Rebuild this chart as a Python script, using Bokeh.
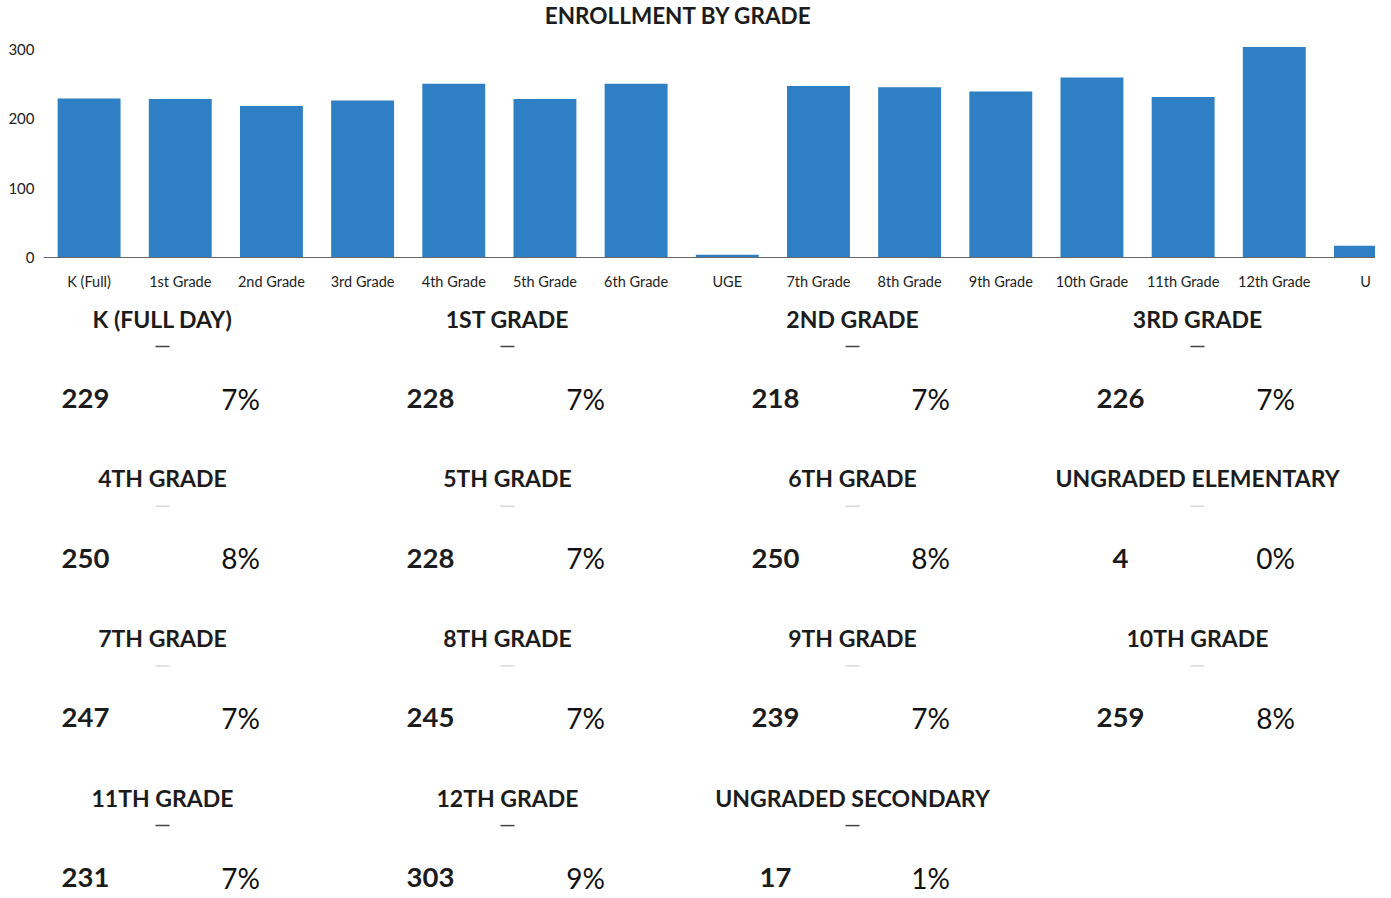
from bokeh.plotting import figure
from bokeh.models import Range1d, ColumnDataSource, FixedTicker
from bokeh.core.properties import value
from bokeh.embed import file_html
from bokeh.resources import INLINE

# ---- data ----
bar_labels = ["K (Full)", "1st Grade", "2nd Grade", "3rd Grade", "4th Grade", "5th Grade",
              "6th Grade", "UGE", "7th Grade", "8th Grade", "9th Grade", "10th Grade",
              "11th Grade", "12th Grade", "U"]
bar_values = [229, 228, 218, 226, 250, 228, 250, 4, 247, 245, 239, 259, 231, 303, 17]

cell_titles = ["K (FULL DAY)", "1ST GRADE", "2ND GRADE", "3RD GRADE",
               "4TH GRADE", "5TH GRADE", "6TH GRADE", "UNGRADED ELEMENTARY",
               "7TH GRADE", "8TH GRADE", "9TH GRADE", "10TH GRADE",
               "11TH GRADE", "12TH GRADE", "UNGRADED SECONDARY"]
cell_counts = [229, 228, 218, 226, 250, 228, 250, 4, 247, 245, 239, 259, 231, 303, 17]
cell_pcts = ["7%", "7%", "7%", "7%", "8%", "7%", "8%", "0%",
             "7%", "7%", "7%", "8%", "7%", "9%", "1%"]
y_ticks = [0, 100, 200, 300]
chart_title = "ENROLLMENT BY GRADE"

# ---- style ----
BLUE = "#2E7FC4"
TEXT = "#1c1c1c"
W = 1375
FONT = value("Lato")


def blank(h):
    f = figure(width=W, height=h, x_range=Range1d(0, W), y_range=Range1d(h, 0),
               x_axis_location=None, y_axis_location=None,
               output_backend="svg", toolbar_location=None,
               min_border_left=0, min_border_right=0, min_border_top=0, min_border_bottom=0)
    f.grid.visible = False
    f.outline_line_color = None
    return f


# ---- title strip ----
H0 = 34
p0 = blank(H0)
p0.text(x=[678], y=[15], text=[chart_title], text_align="center", text_baseline="middle",
        text_font=FONT, text_font_style="bold", text_font_size="22.5px", text_color=TEXT)

# ---- bar chart ----
idx = list(range(len(bar_labels)))
src = ColumnDataSource(dict(x=idx, top=bar_values))
p = figure(width=W, height=258, x_range=Range1d(-0.5, 14.11), y_range=Range1d(0, 308),
           output_backend="svg", toolbar_location=None,
           min_border_left=43, min_border_right=0, min_border_top=9, min_border_bottom=0)
p.vbar(x="x", top="top", bottom=0, width=0.69, source=src,
       fill_color=BLUE, line_color=None)

p.yaxis.ticker = FixedTicker(ticks=y_ticks)
p.yaxis.axis_line_color = None
p.yaxis.major_tick_line_color = None
p.yaxis.major_tick_out = 0
p.yaxis.major_tick_in = 0
p.yaxis.minor_tick_line_color = None
p.yaxis.major_label_text_font = "Lato"
p.yaxis.major_label_text_font_size = "15px"
p.yaxis.major_label_text_color = "#222222"
p.yaxis.major_label_standoff = 9

p.xaxis.ticker = FixedTicker(ticks=idx)
p.xaxis.major_label_overrides = {i: l for i, l in enumerate(bar_labels)}
p.xaxis.major_tick_line_color = None
p.xaxis.minor_tick_line_color = None
p.xaxis.axis_line_color = "#666666"
p.xaxis.major_label_text_font = "Lato"
p.xaxis.major_label_text_font_size = "14.5px"
p.xaxis.major_label_text_color = "#222222"
p.xaxis.major_label_standoff = 9

p.grid.visible = False
p.outline_line_color = None

# ---- stats grid ----
H2 = 604
NCOL = 4
COL0, COLW = 162, 345
ROW0, ROWH = 26, 159.7
cx, ty, dy, ny, nx, px, dcol = [], [], [], [], [], [], []
for i in range(len(cell_titles)):
    r, c = divmod(i, NCOL)
    x = COL0 + COLW * c
    y = ROW0 + ROWH * r
    cx.append(x)
    ty.append(y)
    dy.append(y + 28)
    ny.append(y + 80)
    nx.append(x - 77)
    px.append(x + 78)
    dcol.append("#d8d8d8" if r in (1, 2) else "#444444")

cells = ColumnDataSource(dict(cx=cx, ty=ty, dy=dy, ny=ny, nx=nx, px=px,
                              x0=[v - 7 for v in cx], x1=[v + 7 for v in cx], dcol=dcol,
                              title=cell_titles, count=[str(v) for v in cell_counts],
                              pct=cell_pcts))

p2 = blank(H2)
p2.text(x="cx", y="ty", text="title", source=cells, text_align="center",
        text_baseline="middle", text_font=FONT, text_font_style="bold",
        text_font_size="23px", text_color=TEXT)
p2.segment(x0="x0", y0="dy", x1="x1", y1="dy", source=cells, line_color="dcol",
           line_width=1.5)
p2.text(x="nx", y="ny", text="count", source=cells, text_align="center",
        text_baseline="middle", text_font=FONT, text_font_style="bold",
        text_font_size="27.5px", text_color=TEXT)
p2.text(x="px", y="ny", text="pct", source=cells, text_align="center",
        text_baseline="middle", text_font=FONT, text_font_size="28px",
        text_color="#111111")

open("out.html", "w").write(file_html([p0, p, p2], INLINE))
